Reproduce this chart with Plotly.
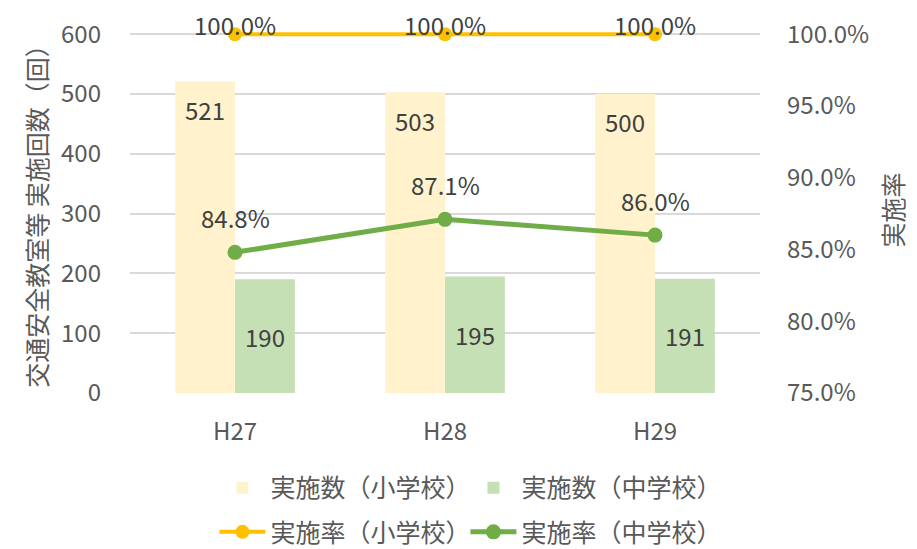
import plotly.graph_objects as go

categories = ["H27", "H28", "H29"]
count_elem = [521, 503, 500]
count_jr = [190, 195, 191]
rate_elem = [100.0, 100.0, 100.0]
rate_jr = [84.8, 87.1, 86.0]
left_ticks = [0, 100, 200, 300, 400, 500, 600]
right_ticks = [75, 80, 85, 90, 95, 100]

FONT = "Noto Sans CJK JP"
TICK_C = "#595959"
LABEL_C = "#404040"

# small headroom above the top tick so the 100% line is not clipped
PAD_L = 12
PAD_R = 0.5

fig = go.Figure()
fig.add_trace(go.Bar(x=categories, y=count_elem, name="実施数（小学校）",
                     marker=dict(color="#FFF2CC", line=dict(width=0)),
                     legend="legend"))
fig.add_trace(go.Bar(x=categories, y=count_jr, name="実施数（中学校）",
                     marker=dict(color="#C5E0B4", line=dict(width=0)),
                     legend="legend"))
fig.add_trace(go.Scatter(x=categories, y=rate_elem, name="実施率（小学校）",
                         mode="lines+markers", yaxis="y2", cliponaxis=False,
                         line=dict(color="#FFC000", width=4),
                         marker=dict(color="#FFC000", size=14),
                         legend="legend2"))
fig.add_trace(go.Scatter(x=categories, y=rate_jr, name="実施率（中学校）",
                         mode="lines+markers", yaxis="y2", cliponaxis=False,
                         line=dict(color="#70AD47", width=5),
                         marker=dict(color="#70AD47", size=15),
                         legend="legend2"))

ann = []
lab_font = dict(family=FONT, size=24, color=LABEL_C)
for c, v in zip(categories, count_elem):
    ann.append(dict(x=c, y=v, xref="x", yref="y", text=str(v), showarrow=False,
                    xshift=-30, yshift=-28, font=lab_font))
for c, v in zip(categories, count_jr):
    ann.append(dict(x=c, y=v / 2, xref="x", yref="y", text=str(v), showarrow=False,
                    xshift=30, font=lab_font))
for c, v in zip(categories, rate_elem):
    ann.append(dict(x=c, y=v, xref="x", yref="y2", text=f"{v:.1f}%", showarrow=False,
                    yshift=10, font=lab_font))
for c, v in zip(categories, rate_jr):
    ann.append(dict(x=c, y=v, xref="x", yref="y2", text=f"{v:.1f}%", showarrow=False,
                    yshift=35, font=lab_font))

fig.update_layout(
    width=917, height=549,
    margin=dict(l=130, r=157, t=26.8, b=156, autoexpand=False),
    paper_bgcolor="white", plot_bgcolor="white",
    font=dict(family=FONT, size=24, color=TICK_C),
    barmode="group", bargap=0.43, bargroupgap=0,
    xaxis=dict(showgrid=False, showline=False, zeroline=False, automargin=False,
               tickfont=dict(size=24, color=TICK_C), ticks="", ticklabelstandoff=22),
    yaxis=dict(range=[0, 600 + PAD_L], tickvals=left_ticks, showgrid=True,
               gridcolor="#D9D9D9", gridwidth=1.5, zeroline=False, showline=False,
               ticks="", ticklabelstandoff=28, automargin=False,
               tickfont=dict(size=24, color=TICK_C),
               title=dict(text="交通安全教室等 実施回数（回）",
                          font=dict(size=25, color=TICK_C), standoff=6)),
    yaxis2=dict(range=[75, 100 + PAD_R], tickvals=right_ticks,
                ticktext=[f"{t:.1f}%" for t in right_ticks],
                overlaying="y", side="right", automargin=False,
                showgrid=False, zeroline=False, showline=False, ticks="",
                ticklabelstandoff=26,
                tickfont=dict(size=24, color=TICK_C),
                title=dict(text="実施率", font=dict(size=25, color=TICK_C), standoff=17)),
    legend=dict(orientation="h", x=0.134, xanchor="left", y=-0.2594, yanchor="middle",
                entrywidth=190, entrywidthmode="pixels", itemwidth=46,
                font=dict(size=25, color=TICK_C), traceorder="normal"),
    legend2=dict(orientation="h", x=0.134, xanchor="left", y=-0.380, yanchor="middle",
                 entrywidth=190, entrywidthmode="pixels", itemwidth=46,
                 font=dict(size=25, color=TICK_C), traceorder="normal"),
    annotations=ann,
)

fig.write_html("out.html", config={"displayModeBar": False},
               post_script="document.body.style.margin='0px';document.body.style.overflow='hidden';")
